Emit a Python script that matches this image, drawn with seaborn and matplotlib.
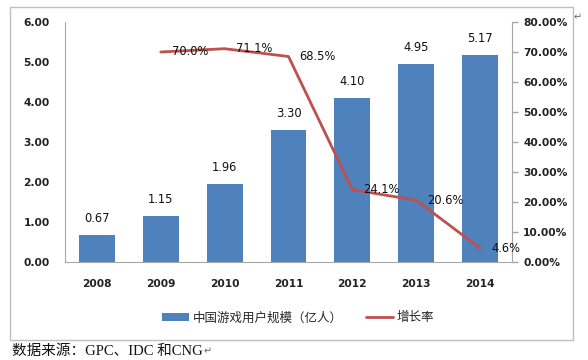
import numpy as np
import pandas as pd
import matplotlib
matplotlib.use("Agg")
import matplotlib.pyplot as plt
from matplotlib.ticker import FuncFormatter, MultipleLocator
from matplotlib.patches import Rectangle
from matplotlib.lines import Line2D
from matplotlib.patches import Patch
import seaborn as sns

years = ["2008", "2009", "2010", "2011", "2012", "2013", "2014"]
users = [0.67, 1.15, 1.96, 3.30, 4.10, 4.95, 5.17]
growth_years = ["2009", "2010", "2011", "2012", "2013", "2014"]
growth = [70.0, 71.1, 68.5, 24.1, 20.6, 4.6]
bar_label = "中国游戏用户规模（亿人）"
line_label = "增长率"
source = "数据来源：GPC、IDC 和CNG"

sns.set_style("white")
plt.rcParams["font.family"] = ["DejaVu Sans", "Noto Sans CJK SC"]

BLUE = "#4F81BD"
RED = "#C0504D"
GRAY = "#A6A6A6"

fig = plt.figure(figsize=(5.88, 3.60), dpi=100)
ax = fig.add_axes([65 / 588, 1 - 262 / 360, (512 - 65) / 588, 240 / 360])

df = pd.DataFrame({"year": years, "users": users})
sns.barplot(data=df, x="year", y="users", order=years, color=BLUE,
            saturation=1, width=0.56, ax=ax, edgecolor="none")
ax.set_ylim(0, 6)
ax.set_xlim(-0.5, len(years) - 0.5)
ax.yaxis.set_major_locator(MultipleLocator(1))
ax.yaxis.set_major_formatter(FuncFormatter(lambda v, p: f"{v:.2f}"))
ax.set_xlabel("")
ax.set_ylabel("")
for i, v in enumerate(users):
    ax.annotate(f"{v:.2f}", (i, v), xytext=(0, 7), textcoords="offset points",
                ha="center", va="bottom", fontsize=8.3, color="#111111")

ax2 = ax.twinx()
gdf = pd.DataFrame({"x": [years.index(y) for y in growth_years], "g": growth})
sns.lineplot(data=gdf, x="x", y="g", color=RED, lw=2, ax=ax2)
ax2.set_ylim(0, 80)
ax2.set_xlim(-0.5, len(years) - 0.5)
ax2.yaxis.set_major_locator(MultipleLocator(10))
ax2.yaxis.set_major_formatter(FuncFormatter(lambda v, p: f"{v:.2f}%"))
ax2.set_xlabel("")
ax2.set_ylabel("")
for xi, g in zip(gdf["x"], growth):
    ax2.annotate(f"{g:.1f}%", (xi, g), xytext=(8, 0), textcoords="offset points",
                 ha="left", va="center", fontsize=8.3, color="#111111")

for a in (ax, ax2):
    for s in a.spines.values():
        s.set_visible(False)
ax.spines["left"].set_visible(True)
ax.spines["left"].set_color(GRAY)
ax.spines["bottom"].set_visible(True)
ax.spines["bottom"].set_color(GRAY)
ax2.spines["right"].set_visible(True)
ax2.spines["right"].set_color(GRAY)

ax.tick_params(axis="y", length=0, pad=11, labelsize=7.7, labelcolor="#222222")
ax.tick_params(axis="x", length=0, pad=12, labelsize=7.7, labelcolor="#222222")
for t in ax.get_xticklabels() + ax.get_yticklabels():
    t.set_fontweight("bold")
ax2.tick_params(axis="y", length=4, width=1, color=GRAY, direction="out", pad=4,
                labelsize=7.7, labelcolor="#222222")
for t in ax2.get_yticklabels():
    t.set_fontweight("bold")

handles = [Patch(facecolor=BLUE, edgecolor="none"),
           Line2D([0], [0], color=RED, lw=2)]
fig.legend(handles, [bar_label, line_label], loc="center",
           bbox_to_anchor=(298 / 588, 1 - 318 / 360), ncol=2, frameon=False,
           handlelength=2.2, handleheight=0.6, columnspacing=1.8,
           handletextpad=0.3, prop={"family": ["Noto Sans CJK SC"], "size": 9})

fig.add_artist(Rectangle((10 / 588, 1 - 340 / 360), 563 / 588, 333 / 360,
                         transform=fig.transFigure, fill=False,
                         edgecolor="#BFBFBF", lw=1))

fig.text(12 / 588, 1 - 351 / 360, source, ha="left", va="center", fontsize=10.5,
         family=["Liberation Serif", "Noto Sans CJK SC"], color="#111111")
fig.text(578 / 588, 1 - 17 / 360, "↵", ha="center", va="center", fontsize=7,
         family=["DejaVu Sans"], color="#666666")
fig.text(208 / 588, 1 - 351 / 360, "↵", ha="center", va="center", fontsize=7,
         family=["DejaVu Sans"], color="#666666")

fig.savefig("out.png", dpi=100)
